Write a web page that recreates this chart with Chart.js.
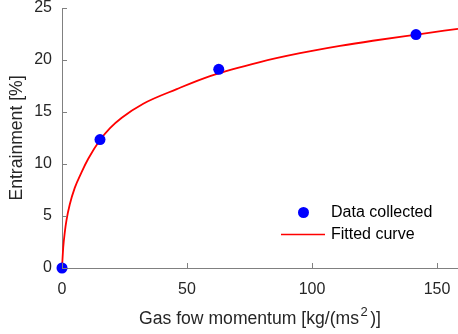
<!DOCTYPE html>
<html>
<head>
<meta charset="utf-8">
<script src="https://cdn.jsdelivr.net/npm/chart.js@4"></script>
<style>
  html, body { margin: 0; padding: 0; background: #ffffff; }
  #wrap { width: 458px; height: 334px; }
</style>
</head>
<body>
<div id="wrap"><canvas id="c" width="458" height="334"></canvas></div>
<script>
// ---- data ----
const momentumCollected = [0, 15.2, 62.7, 141.6];
const entrainmentCollected = [0, 12.35, 19.1, 22.45];

const momentumFit = [0, 0.5, 1.1, 1.8, 3.1, 5.1, 7.8, 10.5, 15.2, 19.2, 23.9, 32.5, 45.9, 59.2, 79.2, 95.2, 111.2, 124.3, 141.9, 158.4];
const entrainmentFit = [0, 2.0, 3.4, 4.6, 6.1, 7.7, 9.2, 10.5, 12.3, 13.45, 14.45, 15.8, 17.2, 18.45, 19.8, 20.65, 21.35, 21.85, 22.45, 23.0];

const xTicks = [0, 50, 100, 150];
const yTicks = [0, 5, 10, 15, 20, 25];

const xTitleParts = ['Gas fow momentum [kg/(ms', '2', ')]'];
const yTitle = 'Entrainment [%]';
const legendLabels = ['Data collected', 'Fitted curve'];

// ---- build ----
const FONT = '"Liberation Sans", Arial, Helvetica, sans-serif';
const TXT = '#262626';
const AXIS = '#808080';

const collected = momentumCollected.map((x, i) => ({ x, y: entrainmentCollected[i] }));
const fitted = momentumFit.map((x, i) => ({ x, y: entrainmentFit[i] }));

const decor = {
  id: 'decor',
  afterDraw(chart) {
    const ctx = chart.ctx;
    const xs = chart.scales.x, ys = chart.scales.y;
    const ca = chart.chartArea;
    ctx.save();
    // inward ticks
    ctx.strokeStyle = AXIS;
    ctx.lineWidth = 1;
    ctx.beginPath();
    xTicks.forEach(v => {
      const px = Math.round(xs.getPixelForValue(v)) + 0.5;
      ctx.moveTo(px, ca.bottom); ctx.lineTo(px, ca.bottom - 5);
    });
    yTicks.forEach(v => {
      const py = Math.round(ys.getPixelForValue(v)) + 0.5;
      ctx.moveTo(ca.left, py); ctx.lineTo(ca.left + 5, py);
    });
    ctx.stroke();

    // x axis title with superscript
    ctx.fillStyle = TXT;
    ctx.textBaseline = 'alphabetic';
    ctx.textAlign = 'left';
    const big = '17.6px ' + FONT, small = '13px ' + FONT, leg = '16px ' + FONT;
    ctx.font = big;
    const w0 = ctx.measureText(xTitleParts[0]).width;
    const w2 = ctx.measureText(xTitleParts[2]).width;
    ctx.font = small;
    const w1 = ctx.measureText(xTitleParts[1]).width + 4;
    const total = w0 + w1 + w2;
    let x0 = (ca.left + ca.right) / 2 - total / 2;
    const base = 323.5;
    ctx.font = big;
    ctx.fillText(xTitleParts[0], x0, base);
    ctx.font = small;
    ctx.fillText(xTitleParts[1], x0 + w0 + 1.5, base - 8);
    ctx.font = big;
    ctx.fillText(xTitleParts[2], x0 + w0 + w1, base);

    // y axis title
    ctx.textAlign = 'center';
    ctx.textBaseline = 'middle';
    ctx.save();
    ctx.translate(17, (ca.top + ca.bottom) / 2);
    ctx.rotate(-Math.PI / 2);
    ctx.fillText(yTitle, 0, 0);
    ctx.restore();

    // legend
    ctx.textAlign = 'left';
    ctx.fillStyle = '#000000';
    ctx.font = leg;
    ctx.fillText(legendLabels[0], 331, 212.5);
    ctx.fillText(legendLabels[1], 331, 234.5);
    ctx.fillStyle = '#0000ff';
    ctx.beginPath();
    ctx.arc(303.5, 212.5, 5.5, 0, Math.PI * 2);
    ctx.fill();
    ctx.strokeStyle = '#ff0000';
    ctx.lineWidth = 1.5;
    ctx.beginPath();
    ctx.moveTo(281, 234.5); ctx.lineTo(325, 234.5);
    ctx.stroke();
    ctx.restore();
  }
};

new Chart(document.getElementById('c'), {
  type: 'scatter',
  data: {
    datasets: [
      {
        label: legendLabels[1],
        type: 'line',
        data: fitted,
        borderColor: '#ff0000',
        borderWidth: 1.8,
        pointRadius: 0,
        fill: false,
        cubicInterpolationMode: 'monotone',
        order: 2,
        clip: false
      },
      {
        label: legendLabels[0],
        data: collected,
        backgroundColor: '#0000ff',
        borderColor: '#0000ff',
        pointRadius: 5.5,
        pointHoverRadius: 5.5,
        borderWidth: 0,
        order: 1,
        clip: false
      }
    ]
  },
  options: {
    responsive: false,
    animation: false,
    devicePixelRatio: 1,
    layout: { autoPadding: false, padding: { top: 8, right: 0, left: 0, bottom: 0 } },
    plugins: { legend: { display: false }, tooltip: { enabled: false } },
    scales: {
      x: {
        type: 'linear',
        min: 0, max: 158.4,
        afterBuildTicks: s => { s.ticks = xTicks.map(v => ({ value: v })); },
        afterFit: s => { s.height = 66; s.paddingLeft = 0; s.paddingRight = 0; },
        grid: { display: true, drawOnChartArea: false, drawTicks: false },
        border: { display: true, color: AXIS, width: 1 },
        ticks: { color: TXT, font: { family: FONT, size: 16 }, padding: 12, maxRotation: 0 }
      },
      y: {
        type: 'linear',
        min: 0, max: 25,
        afterBuildTicks: s => { s.ticks = yTicks.map(v => ({ value: v })); },
        afterFit: s => { s.width = 62; s.paddingTop = 0; s.paddingBottom = 0; },
        grid: { display: true, drawOnChartArea: false, drawTicks: false },
        border: { display: true, color: AXIS, width: 1 },
        ticks: { color: TXT, font: { family: FONT, size: 16 }, padding: 10 }
      }
    }
  },
  plugins: [decor]
});
</script>
</body>
</html>
